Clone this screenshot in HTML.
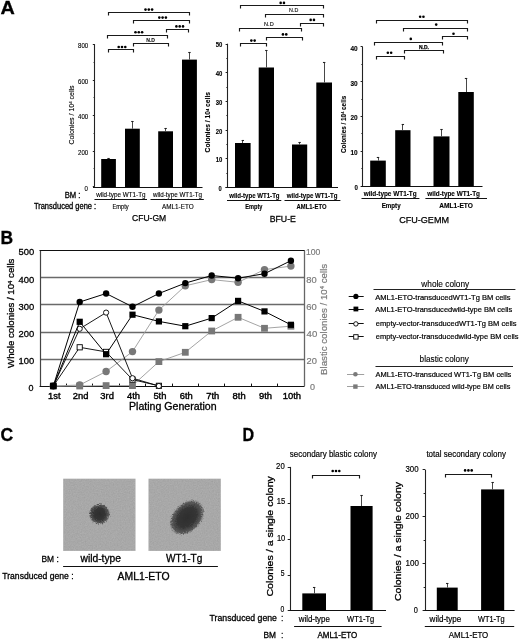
<!DOCTYPE html>
<html><head><meta charset="utf-8"><style>
html,body{margin:0;padding:0;background:#fff;width:520px;height:640px;overflow:hidden;}
svg{display:block;font-family:"Liberation Sans", sans-serif;}
</style></head><body>
<svg width="520" height="640" viewBox="0 0 520 640">
<text x="0.6" y="13.8" font-size="18" text-anchor="start" stroke="#000" stroke-width="0.3" font-weight="bold" textLength="14.3" lengthAdjust="spacingAndGlyphs" >A</text>
<line x1="94.5" y1="44.2" x2="94.5" y2="186.7" stroke="#222" stroke-width="1.1" />
<line x1="92.8" y1="44.5" x2="94.8" y2="44.5" stroke="#222" stroke-width="1" />
<line x1="92.8" y1="80.5" x2="94.8" y2="80.5" stroke="#222" stroke-width="1" />
<line x1="92.8" y1="115.5" x2="94.8" y2="115.5" stroke="#222" stroke-width="1" />
<line x1="92.8" y1="151.5" x2="94.8" y2="151.5" stroke="#222" stroke-width="1" />
<line x1="92.8" y1="186.5" x2="94.8" y2="186.5" stroke="#222" stroke-width="1" />
<line x1="93.6" y1="62.5" x2="94.8" y2="62.5" stroke="#222" stroke-width="1" />
<line x1="93.6" y1="97.5" x2="94.8" y2="97.5" stroke="#222" stroke-width="1" />
<line x1="93.6" y1="133.5" x2="94.8" y2="133.5" stroke="#222" stroke-width="1" />
<line x1="93.6" y1="168.5" x2="94.8" y2="168.5" stroke="#222" stroke-width="1" />
<line x1="93.0" y1="187.5" x2="202.5" y2="187.5" stroke="#111" stroke-width="1.2" />
<text x="78.1" y="48.1" font-size="7" text-anchor="start" stroke="#000" stroke-width="0.12" textLength="10.1" lengthAdjust="spacingAndGlyphs" >800</text>
<text x="78.1" y="83.6" font-size="7" text-anchor="start" stroke="#000" stroke-width="0.12" textLength="10.1" lengthAdjust="spacingAndGlyphs" >600</text>
<text x="78.1" y="119.0" font-size="7" text-anchor="start" stroke="#000" stroke-width="0.12" textLength="10.1" lengthAdjust="spacingAndGlyphs" >400</text>
<text x="78.1" y="154.6" font-size="7" text-anchor="start" stroke="#000" stroke-width="0.12" textLength="10.1" lengthAdjust="spacingAndGlyphs" >200</text>
<text x="84.6" y="190.8" font-size="7" text-anchor="start" stroke="#000" stroke-width="0.12" textLength="3.4" lengthAdjust="spacingAndGlyphs" >0</text>
<rect x="101.2" y="159.0" width="14.7" height="28.0" fill="#000" />
<line x1="108.5" y1="159.0" x2="108.5" y2="158.2" stroke="#333" stroke-width="0.9" />
<line x1="107.35000000000001" y1="158.5" x2="109.75000000000001" y2="158.5" stroke="#222" stroke-width="1.1" />
<rect x="125" y="128.7" width="14.8" height="58.3" fill="#000" />
<line x1="132.5" y1="128.7" x2="132.5" y2="121.3" stroke="#333" stroke-width="0.9" />
<line x1="131.20000000000002" y1="121.5" x2="133.6" y2="121.5" stroke="#222" stroke-width="1.1" />
<rect x="158.2" y="131.3" width="14.8" height="55.7" fill="#000" />
<line x1="165.5" y1="131.3" x2="165.5" y2="128.5" stroke="#333" stroke-width="0.9" />
<line x1="164.4" y1="128.5" x2="166.79999999999998" y2="128.5" stroke="#222" stroke-width="1.1" />
<rect x="182" y="59.6" width="14.9" height="127.4" fill="#000" />
<line x1="189.5" y1="59.6" x2="189.5" y2="52.3" stroke="#333" stroke-width="0.9" />
<line x1="188.25" y1="52.5" x2="190.64999999999998" y2="52.5" stroke="#222" stroke-width="1.1" />
<text transform="translate(73.9,115.0) rotate(-90)" x="0" y="0" font-size="6.6" text-anchor="middle" textLength="59.2" lengthAdjust="spacingAndGlyphs" stroke="#000" stroke-width="0.12">Colonies / 10<tspan font-size="0.62em" dy="-0.45em">4</tspan><tspan dy="0.28em"> </tspan>cells</text>
<path d="M108.5,15.5 V12.5 H189.5 V15.5" fill="none" stroke="#1a1a1a" stroke-width="1.15"/>
<circle cx="145.5" cy="9.6" r="1.3" fill="#000"/>
<circle cx="148.8" cy="9.6" r="1.3" fill="#000"/>
<circle cx="152.1" cy="9.6" r="1.3" fill="#000"/>
<path d="M133.5,23.5 V20.5 H189.5 V23.5" fill="none" stroke="#1a1a1a" stroke-width="1.15"/>
<circle cx="159.3" cy="17.6" r="1.3" fill="#000"/>
<circle cx="162.6" cy="17.6" r="1.3" fill="#000"/>
<circle cx="165.9" cy="17.6" r="1.3" fill="#000"/>
<path d="M166.5,32.5 V29.5 H188.5 V32.5" fill="none" stroke="#1a1a1a" stroke-width="1.15"/>
<circle cx="176.4" cy="26.4" r="1.3" fill="#000"/>
<circle cx="179.7" cy="26.4" r="1.3" fill="#000"/>
<circle cx="183.0" cy="26.4" r="1.3" fill="#000"/>
<path d="M107.5,38.5 V35.5 H167.5 V38.5" fill="none" stroke="#1a1a1a" stroke-width="1.15"/>
<circle cx="135.5" cy="32.3" r="1.3" fill="#000"/>
<circle cx="138.8" cy="32.3" r="1.3" fill="#000"/>
<circle cx="142.1" cy="32.3" r="1.3" fill="#000"/>
<path d="M133.5,46.5 V43.5 H168.5 V46.5" fill="none" stroke="#1a1a1a" stroke-width="1.15"/>
<text x="146.2" y="41.9" font-size="5.8" text-anchor="start" stroke="#111" stroke-width="0.1" font-weight="bold" fill="#111" textLength="8.8" lengthAdjust="spacingAndGlyphs" >N.D</text>
<path d="M108.5,52.5 V49.5 H133.5 V52.5" fill="none" stroke="#1a1a1a" stroke-width="1.15"/>
<circle cx="118.7" cy="47.0" r="1.3" fill="#000"/>
<circle cx="122.0" cy="47.0" r="1.3" fill="#000"/>
<circle cx="125.3" cy="47.0" r="1.3" fill="#000"/>
<text x="64.7" y="197.9" font-size="8.8" text-anchor="start" stroke="#000" stroke-width="0.3" textLength="15.8" lengthAdjust="spacingAndGlyphs" >BM :</text>
<text x="96.2" y="196.8" font-size="6.6" text-anchor="start" stroke="#000" stroke-width="0.12" textLength="49.3" lengthAdjust="spacingAndGlyphs" >wild-type WT1-Tg</text>
<line x1="94.5" y1="199.5" x2="147" y2="199.5" stroke="#111" stroke-width="1" />
<text x="153" y="196.8" font-size="6.6" text-anchor="start" stroke="#000" stroke-width="0.12" textLength="49.0" lengthAdjust="spacingAndGlyphs" >wild-type WT1-Tg</text>
<line x1="150.5" y1="199.5" x2="203.8" y2="199.5" stroke="#111" stroke-width="1" />
<text x="33.9" y="208.7" font-size="8.2" text-anchor="start" stroke="#000" stroke-width="0.3" textLength="62.3" lengthAdjust="spacingAndGlyphs" >Transduced gene :</text>
<text x="112.5" y="208.6" font-size="6.4" text-anchor="start" stroke="#000" stroke-width="0.12" textLength="16.2" lengthAdjust="spacingAndGlyphs" >Empty</text>
<text x="162" y="208.6" font-size="6.4" text-anchor="start" stroke="#000" stroke-width="0.12" textLength="31.7" lengthAdjust="spacingAndGlyphs" >AML1-ETO</text>
<text x="132.0" y="220.7" font-size="9.4" text-anchor="start" stroke="#000" stroke-width="0.25" textLength="34.2" lengthAdjust="spacingAndGlyphs" >CFU-GM</text>
<line x1="227.5" y1="43.7" x2="227.5" y2="187.5" stroke="#222" stroke-width="1.1" />
<line x1="225.6" y1="44.5" x2="227.6" y2="44.5" stroke="#222" stroke-width="1" />
<line x1="225.6" y1="72.5" x2="227.6" y2="72.5" stroke="#222" stroke-width="1" />
<line x1="225.6" y1="101.5" x2="227.6" y2="101.5" stroke="#222" stroke-width="1" />
<line x1="225.6" y1="130.5" x2="227.6" y2="130.5" stroke="#222" stroke-width="1" />
<line x1="225.6" y1="158.5" x2="227.6" y2="158.5" stroke="#222" stroke-width="1" />
<line x1="225.6" y1="187.5" x2="227.6" y2="187.5" stroke="#222" stroke-width="1" />
<line x1="226.4" y1="58.5" x2="227.6" y2="58.5" stroke="#222" stroke-width="1" />
<line x1="226.4" y1="87.5" x2="227.6" y2="87.5" stroke="#222" stroke-width="1" />
<line x1="226.4" y1="115.5" x2="227.6" y2="115.5" stroke="#222" stroke-width="1" />
<line x1="226.4" y1="144.5" x2="227.6" y2="144.5" stroke="#222" stroke-width="1" />
<line x1="226.4" y1="173.5" x2="227.6" y2="173.5" stroke="#222" stroke-width="1" />
<line x1="225.5" y1="187.5" x2="338" y2="187.5" stroke="#111" stroke-width="1.2" />
<text x="215.8" y="47.4" font-size="7.2" text-anchor="start" stroke="#000" stroke-width="0.12" font-weight="bold" textLength="6.6" lengthAdjust="spacingAndGlyphs" >50</text>
<text x="215.8" y="76.1" font-size="7.2" text-anchor="start" stroke="#000" stroke-width="0.12" font-weight="bold" textLength="6.6" lengthAdjust="spacingAndGlyphs" >40</text>
<text x="215.8" y="104.8" font-size="7.2" text-anchor="start" stroke="#000" stroke-width="0.12" font-weight="bold" textLength="6.6" lengthAdjust="spacingAndGlyphs" >30</text>
<text x="215.8" y="133.5" font-size="7.2" text-anchor="start" stroke="#000" stroke-width="0.12" font-weight="bold" textLength="6.6" lengthAdjust="spacingAndGlyphs" >20</text>
<text x="215.8" y="162.2" font-size="7.2" text-anchor="start" stroke="#000" stroke-width="0.12" font-weight="bold" textLength="6.6" lengthAdjust="spacingAndGlyphs" >10</text>
<text x="218.6" y="190.8" font-size="7.2" text-anchor="start" stroke="#000" stroke-width="0.12" font-weight="bold" textLength="3.2" lengthAdjust="spacingAndGlyphs" >0</text>
<rect x="235" y="143" width="15.6" height="44" fill="#000" />
<line x1="242.5" y1="143" x2="242.5" y2="140.4" stroke="#333" stroke-width="0.9" />
<line x1="241.60000000000002" y1="140.5" x2="244.0" y2="140.5" stroke="#222" stroke-width="1.1" />
<rect x="258.7" y="67.5" width="15.3" height="119.5" fill="#000" />
<line x1="266.5" y1="67.5" x2="266.5" y2="50.2" stroke="#333" stroke-width="0.9" />
<line x1="265.15000000000003" y1="50.5" x2="267.55" y2="50.5" stroke="#222" stroke-width="1.1" />
<rect x="292" y="144.5" width="15.2" height="42.5" fill="#000" />
<line x1="299.5" y1="144.5" x2="299.5" y2="142.3" stroke="#333" stroke-width="0.9" />
<line x1="298.40000000000003" y1="142.5" x2="300.8" y2="142.5" stroke="#222" stroke-width="1.1" />
<rect x="316.3" y="82.5" width="15.7" height="104.5" fill="#000" />
<line x1="324.5" y1="82.5" x2="324.5" y2="62" stroke="#333" stroke-width="0.9" />
<line x1="322.95" y1="62.5" x2="325.34999999999997" y2="62.5" stroke="#222" stroke-width="1.1" />
<text transform="translate(210.4,122.2) rotate(-90)" x="0" y="0" font-size="6.8" text-anchor="middle" font-weight="bold" textLength="60.4" lengthAdjust="spacingAndGlyphs" stroke="#000" stroke-width="0.12">Colonies / 10<tspan font-size="0.62em" dy="-0.45em">4</tspan><tspan dy="0.28em"> </tspan>cells</text>
<path d="M240.5,8.5 V5.5 H323.5 V8.5" fill="none" stroke="#1a1a1a" stroke-width="1.15"/>
<circle cx="280.65" cy="2.9" r="1.3" fill="#000"/>
<circle cx="283.95" cy="2.9" r="1.3" fill="#000"/>
<path d="M265.5,17.5 V14.5 H323.5 V17.5" fill="none" stroke="#1a1a1a" stroke-width="1.15"/>
<text x="289.1" y="12.4" font-size="6.0" text-anchor="start" stroke="#111" stroke-width="0.15" fill="#111" textLength="9.2" lengthAdjust="spacingAndGlyphs" >N.D</text>
<path d="M300.5,26.5 V23.5 H323.5 V26.5" fill="none" stroke="#1a1a1a" stroke-width="1.15"/>
<circle cx="310.65" cy="19.9" r="1.3" fill="#000"/>
<circle cx="313.95" cy="19.9" r="1.3" fill="#000"/>
<path d="M239.5,31.5 V28.5 H301.5 V31.5" fill="none" stroke="#1a1a1a" stroke-width="1.15"/>
<text x="264.1" y="26.3" font-size="6.0" text-anchor="start" stroke="#111" stroke-width="0.15" fill="#111" textLength="9.6" lengthAdjust="spacingAndGlyphs" >N.D</text>
<path d="M266.5,40.5 V37.5 H302.5 V40.5" fill="none" stroke="#1a1a1a" stroke-width="1.15"/>
<circle cx="282.95" cy="34.4" r="1.3" fill="#000"/>
<circle cx="286.25" cy="34.4" r="1.3" fill="#000"/>
<path d="M240.5,46.5 V43.5 H266.5 V46.5" fill="none" stroke="#1a1a1a" stroke-width="1.15"/>
<circle cx="251.35" cy="40.6" r="1.3" fill="#000"/>
<circle cx="254.65" cy="40.6" r="1.3" fill="#000"/>
<text x="229.2" y="197.7" font-size="6.8" text-anchor="start" stroke="#000" stroke-width="0.12" font-weight="bold" textLength="50.4" lengthAdjust="spacingAndGlyphs" >wild-type WT1-Tg</text>
<line x1="227" y1="200.5" x2="281.3" y2="200.5" stroke="#111" stroke-width="1" />
<text x="286.8" y="197.7" font-size="6.8" text-anchor="start" stroke="#000" stroke-width="0.12" font-weight="bold" textLength="50.6" lengthAdjust="spacingAndGlyphs" >wild-type WT1-Tg</text>
<line x1="284.5" y1="200.5" x2="340.4" y2="200.5" stroke="#111" stroke-width="1" />
<text x="245.2" y="209.1" font-size="6.6" text-anchor="start" stroke="#000" stroke-width="0.12" font-weight="bold" textLength="17.2" lengthAdjust="spacingAndGlyphs" >Empty</text>
<text x="296.6" y="209.1" font-size="6.6" text-anchor="start" stroke="#000" stroke-width="0.12" font-weight="bold" textLength="30.0" lengthAdjust="spacingAndGlyphs" >AML1-ETO</text>
<text x="269.7" y="222.0" font-size="9.3" text-anchor="start" stroke="#000" stroke-width="0.28" textLength="26.2" lengthAdjust="spacingAndGlyphs" >BFU-E</text>
<line x1="362.5" y1="46.6" x2="362.5" y2="186.2" stroke="#222" stroke-width="1.1" />
<line x1="360.6" y1="46.5" x2="362.6" y2="46.5" stroke="#222" stroke-width="1" />
<line x1="360.6" y1="81.5" x2="362.6" y2="81.5" stroke="#222" stroke-width="1" />
<line x1="360.6" y1="116.5" x2="362.6" y2="116.5" stroke="#222" stroke-width="1" />
<line x1="360.6" y1="151.5" x2="362.6" y2="151.5" stroke="#222" stroke-width="1" />
<line x1="360.6" y1="186.5" x2="362.6" y2="186.5" stroke="#222" stroke-width="1" />
<line x1="361.40000000000003" y1="64.5" x2="362.6" y2="64.5" stroke="#222" stroke-width="1" />
<line x1="361.40000000000003" y1="99.5" x2="362.6" y2="99.5" stroke="#222" stroke-width="1" />
<line x1="361.40000000000003" y1="133.5" x2="362.6" y2="133.5" stroke="#222" stroke-width="1" />
<line x1="361.40000000000003" y1="168.5" x2="362.6" y2="168.5" stroke="#222" stroke-width="1" />
<line x1="361.0" y1="186.5" x2="482.5" y2="186.5" stroke="#111" stroke-width="1.2" />
<text x="350.4" y="50.8" font-size="7.2" text-anchor="start" stroke="#000" stroke-width="0.12" font-weight="bold" textLength="7.2" lengthAdjust="spacingAndGlyphs" >40</text>
<text x="350.4" y="85.6" font-size="7.2" text-anchor="start" stroke="#000" stroke-width="0.12" font-weight="bold" textLength="7.2" lengthAdjust="spacingAndGlyphs" >30</text>
<text x="350.4" y="120.4" font-size="7.2" text-anchor="start" stroke="#000" stroke-width="0.12" font-weight="bold" textLength="7.2" lengthAdjust="spacingAndGlyphs" >20</text>
<text x="350.4" y="155.3" font-size="7.2" text-anchor="start" stroke="#000" stroke-width="0.12" font-weight="bold" textLength="7.2" lengthAdjust="spacingAndGlyphs" >10</text>
<text x="354.4" y="190.4" font-size="7.2" text-anchor="start" stroke="#000" stroke-width="0.12" font-weight="bold" textLength="3.4" lengthAdjust="spacingAndGlyphs" >0</text>
<rect x="370.2" y="160.6" width="15.6" height="25.8" fill="#000" />
<line x1="378.5" y1="160.6" x2="378.5" y2="157.7" stroke="#333" stroke-width="0.9" />
<line x1="376.8" y1="157.5" x2="379.2" y2="157.5" stroke="#222" stroke-width="1.1" />
<rect x="395.2" y="130.2" width="15.3" height="56.2" fill="#000" />
<line x1="402.5" y1="130.2" x2="402.5" y2="124.3" stroke="#333" stroke-width="0.9" />
<line x1="401.65000000000003" y1="124.5" x2="404.05" y2="124.5" stroke="#222" stroke-width="1.1" />
<rect x="433.5" y="136.4" width="16.0" height="50.0" fill="#000" />
<line x1="441.5" y1="136.4" x2="441.5" y2="129.7" stroke="#333" stroke-width="0.9" />
<line x1="440.3" y1="129.5" x2="442.7" y2="129.5" stroke="#222" stroke-width="1.1" />
<rect x="458.3" y="92" width="15.5" height="94.4" fill="#000" />
<line x1="466.5" y1="92" x2="466.5" y2="78.5" stroke="#333" stroke-width="0.9" />
<line x1="464.85" y1="78.5" x2="467.25" y2="78.5" stroke="#222" stroke-width="1.1" />
<text transform="translate(346.0,124.4) rotate(-90)" x="0" y="0" font-size="6.8" text-anchor="middle" font-weight="bold" textLength="57.2" lengthAdjust="spacingAndGlyphs" stroke="#000" stroke-width="0.12">Colonies / 10<tspan font-size="0.62em" dy="-0.45em">4</tspan><tspan dy="0.28em"> </tspan>cells</text>
<path d="M376.5,23.5 V20.5 H467.5 V23.5" fill="none" stroke="#1a1a1a" stroke-width="1.15"/>
<circle cx="420.15" cy="16.8" r="1.3" fill="#000"/>
<circle cx="423.45" cy="16.8" r="1.3" fill="#000"/>
<path d="M403.5,31.5 V28.5 H467.5 V31.5" fill="none" stroke="#1a1a1a" stroke-width="1.15"/>
<circle cx="436.2" cy="24.6" r="1.3" fill="#000"/>
<path d="M442.5,39.5 V36.5 H467.5 V39.5" fill="none" stroke="#1a1a1a" stroke-width="1.15"/>
<circle cx="453.5" cy="33.8" r="1.3" fill="#000"/>
<path d="M374.5,45.5 V42.5 H442.5 V45.5" fill="none" stroke="#1a1a1a" stroke-width="1.15"/>
<circle cx="410.8" cy="38.9" r="1.3" fill="#000"/>
<path d="M404.5,53.5 V50.5 H443.5 V53.5" fill="none" stroke="#1a1a1a" stroke-width="1.15"/>
<text x="424" y="48.8" font-size="5.6" text-anchor="middle" stroke="#000" stroke-width="0.25" font-weight="bold" textLength="10" lengthAdjust="spacingAndGlyphs" >N.D.</text>
<path d="M376.5,59.5 V56.5 H404.5 V59.5" fill="none" stroke="#1a1a1a" stroke-width="1.15"/>
<circle cx="387.85" cy="52.8" r="1.3" fill="#000"/>
<circle cx="391.15" cy="52.8" r="1.3" fill="#000"/>
<text x="363.7" y="196.4" font-size="6.8" text-anchor="start" stroke="#000" stroke-width="0.12" font-weight="bold" textLength="53.0" lengthAdjust="spacingAndGlyphs" >wild-type WT1-Tg</text>
<line x1="361.5" y1="198.5" x2="419.4" y2="198.5" stroke="#111" stroke-width="1" />
<text x="427.3" y="196.4" font-size="6.8" text-anchor="start" stroke="#000" stroke-width="0.12" font-weight="bold" textLength="52.7" lengthAdjust="spacingAndGlyphs" >wild-type WT1-Tg</text>
<line x1="425.4" y1="198.5" x2="487" y2="198.5" stroke="#111" stroke-width="1" />
<text x="381.7" y="208.0" font-size="6.6" text-anchor="start" stroke="#000" stroke-width="0.12" font-weight="bold" textLength="18.9" lengthAdjust="spacingAndGlyphs" >Empty</text>
<text x="439.2" y="208.0" font-size="6.6" text-anchor="start" stroke="#000" stroke-width="0.12" font-weight="bold" textLength="33.7" lengthAdjust="spacingAndGlyphs" >AML1-ETO</text>
<text x="399.2" y="222.7" font-size="9.3" text-anchor="start" stroke="#000" stroke-width="0.25" textLength="49.8" lengthAdjust="spacingAndGlyphs" >CFU-GEMM</text>
<text x="0.6" y="243.7" font-size="18" text-anchor="start" stroke="#000" stroke-width="0.3" font-weight="bold" textLength="12.6" lengthAdjust="spacingAndGlyphs" >B</text>
<line x1="40" y1="277.5" x2="304" y2="277.5" stroke="#6a6a6a" stroke-width="1.3" />
<line x1="40" y1="304.5" x2="304" y2="304.5" stroke="#6a6a6a" stroke-width="1.3" />
<line x1="40" y1="332.5" x2="304" y2="332.5" stroke="#6a6a6a" stroke-width="1.3" />
<line x1="40" y1="359.5" x2="304" y2="359.5" stroke="#6a6a6a" stroke-width="1.3" />
<line x1="40.5" y1="250.5" x2="40.5" y2="386" stroke="#444" stroke-width="1.2" />
<line x1="304.5" y1="250.5" x2="304.5" y2="386" stroke="#666" stroke-width="1.3" />
<line x1="39.5" y1="250.5" x2="304.6" y2="250.5" stroke="#111" stroke-width="1.1" />
<line x1="39.5" y1="386.5" x2="304.6" y2="386.5" stroke="#111" stroke-width="1.1" />
<line x1="66.5" y1="386" x2="66.5" y2="383.6" stroke="#111" stroke-width="1" />
<line x1="92.5" y1="386" x2="92.5" y2="383.6" stroke="#111" stroke-width="1" />
<line x1="119.5" y1="386" x2="119.5" y2="383.6" stroke="#111" stroke-width="1" />
<line x1="145.5" y1="386" x2="145.5" y2="383.6" stroke="#111" stroke-width="1" />
<line x1="172.5" y1="386" x2="172.5" y2="383.6" stroke="#111" stroke-width="1" />
<line x1="198.5" y1="386" x2="198.5" y2="383.6" stroke="#111" stroke-width="1" />
<line x1="224.5" y1="386" x2="224.5" y2="383.6" stroke="#111" stroke-width="1" />
<line x1="251.5" y1="386" x2="251.5" y2="383.6" stroke="#111" stroke-width="1" />
<line x1="277.5" y1="386" x2="277.5" y2="383.6" stroke="#111" stroke-width="1" />
<text x="18.5" y="255.3" font-size="9.6" text-anchor="start" stroke="#000" stroke-width="0.3" textLength="15.7" lengthAdjust="spacingAndGlyphs" >500</text>
<text x="18.5" y="283.4" font-size="9.6" text-anchor="start" stroke="#000" stroke-width="0.3" textLength="15.7" lengthAdjust="spacingAndGlyphs" >400</text>
<text x="18.5" y="309.9" font-size="9.6" text-anchor="start" stroke="#000" stroke-width="0.3" textLength="15.7" lengthAdjust="spacingAndGlyphs" >300</text>
<text x="18.5" y="336.5" font-size="9.6" text-anchor="start" stroke="#000" stroke-width="0.3" textLength="15.7" lengthAdjust="spacingAndGlyphs" >200</text>
<text x="18.5" y="363.5" font-size="9.6" text-anchor="start" stroke="#000" stroke-width="0.3" textLength="15.7" lengthAdjust="spacingAndGlyphs" >100</text>
<text x="28.4" y="391.0" font-size="9.6" text-anchor="start" stroke="#000" stroke-width="0.3" textLength="5.0" lengthAdjust="spacingAndGlyphs" >0</text>
<text x="306.0" y="255.3" font-size="9.8" text-anchor="start" stroke="#7a7a7a" stroke-width="0.2" fill="#7a7a7a" textLength="14.4" lengthAdjust="spacingAndGlyphs" >100</text>
<text x="306.2" y="282.8" font-size="9.8" text-anchor="start" stroke="#7a7a7a" stroke-width="0.2" fill="#7a7a7a" textLength="10.4" lengthAdjust="spacingAndGlyphs" >80</text>
<text x="306.3" y="309.8" font-size="9.8" text-anchor="start" stroke="#7a7a7a" stroke-width="0.2" fill="#7a7a7a" textLength="10.5" lengthAdjust="spacingAndGlyphs" >60</text>
<text x="306.6" y="336.6" font-size="9.8" text-anchor="start" stroke="#7a7a7a" stroke-width="0.2" fill="#7a7a7a" textLength="10.7" lengthAdjust="spacingAndGlyphs" >40</text>
<text x="306.6" y="364.4" font-size="9.8" text-anchor="start" stroke="#7a7a7a" stroke-width="0.2" fill="#7a7a7a" textLength="10.4" lengthAdjust="spacingAndGlyphs" >20</text>
<text x="310.0" y="390.3" font-size="9.8" text-anchor="start" stroke="#7a7a7a" stroke-width="0.2" fill="#7a7a7a" textLength="5.0" lengthAdjust="spacingAndGlyphs" >0</text>
<text transform="translate(14.3,313.3) rotate(-90)" x="0" y="0" font-size="9.6" text-anchor="middle" textLength="109.3" lengthAdjust="spacingAndGlyphs" stroke="#000" stroke-width="0.3">Whole colonies / 10<tspan font-size="0.62em" dy="-0.45em">4</tspan><tspan dy="0.28em"> </tspan>cells</text>
<text transform="translate(327.0,319.4) rotate(-90)" x="0" y="0" font-size="9.6" text-anchor="middle" fill="#7a7a7a" textLength="111.2" lengthAdjust="spacingAndGlyphs" stroke="#7a7a7a" stroke-width="0.2">Blastic colonies / 10<tspan font-size="0.62em" dy="-0.45em">4</tspan><tspan dy="0.28em"> </tspan>cells</text>
<text x="54.3" y="398.6" font-size="9.4" text-anchor="middle" stroke="#000" stroke-width="0.4" >1st</text>
<text x="80.7" y="398.6" font-size="9.4" text-anchor="middle" stroke="#000" stroke-width="0.4" >2nd</text>
<text x="107.1" y="398.6" font-size="9.4" text-anchor="middle" stroke="#000" stroke-width="0.4" >3rd</text>
<text x="133.5" y="398.6" font-size="9.4" text-anchor="middle" stroke="#000" stroke-width="0.4" >4th</text>
<text x="159.9" y="398.6" font-size="9.4" text-anchor="middle" stroke="#000" stroke-width="0.4" >5th</text>
<text x="186.3" y="398.6" font-size="9.4" text-anchor="middle" stroke="#000" stroke-width="0.4" >6th</text>
<text x="212.7" y="398.6" font-size="9.4" text-anchor="middle" stroke="#000" stroke-width="0.4" >7th</text>
<text x="239.1" y="398.6" font-size="9.4" text-anchor="middle" stroke="#000" stroke-width="0.4" >8th</text>
<text x="265.5" y="398.6" font-size="9.4" text-anchor="middle" stroke="#000" stroke-width="0.4" >9th</text>
<text x="291.9" y="398.6" font-size="9.4" text-anchor="middle" stroke="#000" stroke-width="0.4" >10th</text>
<text x="129.0" y="410.4" font-size="10.0" text-anchor="start" stroke="#000" stroke-width="0.3" textLength="87.6" lengthAdjust="spacingAndGlyphs" >Plating Generation</text>
<path d="M53.3,386 L79.7,386 L106.1,385.6 L132.5,385.6 L158.9,361.6 L185.3,352.3 L211.7,331 L238.1,317.3 L264.5,328.3 L290.9,326.2" fill="none" stroke="#9a9a9a" stroke-width="0.9"/>
<rect x="49.9" y="382.6" width="6.8" height="6.8" fill="#787878"/>
<rect x="76.3" y="382.6" width="6.8" height="6.8" fill="#787878"/>
<rect x="102.7" y="382.2" width="6.8" height="6.8" fill="#787878"/>
<rect x="129.1" y="382.2" width="6.8" height="6.8" fill="#787878"/>
<rect x="155.5" y="358.2" width="6.8" height="6.8" fill="#787878"/>
<rect x="181.9" y="348.9" width="6.8" height="6.8" fill="#787878"/>
<rect x="208.3" y="327.6" width="6.8" height="6.8" fill="#787878"/>
<rect x="234.7" y="313.9" width="6.8" height="6.8" fill="#787878"/>
<rect x="261.1" y="324.9" width="6.8" height="6.8" fill="#787878"/>
<rect x="287.5" y="322.8" width="6.8" height="6.8" fill="#787878"/>
<path d="M53.3,386 L79.7,385 L106.1,371.5 L132.5,351.6 L158.9,310.1 L185.3,285.8 L211.7,279.6 L238.1,282.3 L264.5,269.6 L290.9,266.1" fill="none" stroke="#9a9a9a" stroke-width="0.9"/>
<circle cx="53.3" cy="386" r="3.7" fill="#787878"/>
<circle cx="79.7" cy="385" r="3.7" fill="#787878"/>
<circle cx="106.1" cy="371.5" r="3.7" fill="#787878"/>
<circle cx="132.5" cy="351.6" r="3.7" fill="#787878"/>
<circle cx="158.9" cy="310.1" r="3.7" fill="#787878"/>
<circle cx="185.3" cy="285.8" r="3.7" fill="#787878"/>
<circle cx="211.7" cy="279.6" r="3.7" fill="#787878"/>
<circle cx="238.1" cy="282.3" r="3.7" fill="#787878"/>
<circle cx="264.5" cy="269.6" r="3.7" fill="#787878"/>
<circle cx="290.9" cy="266.1" r="3.7" fill="#787878"/>
<path d="M53.3,386 L79.7,347.3 L106.1,351.9 L132.5,379.6 L158.9,385.8" fill="none" stroke="#000" stroke-width="0.9"/>
<rect x="50.7" y="383.4" width="5.2" height="5.2" fill="#fff" stroke="#000" stroke-width="0.9"/>
<rect x="77.1" y="344.7" width="5.2" height="5.2" fill="#fff" stroke="#000" stroke-width="0.9"/>
<rect x="103.5" y="349.3" width="5.2" height="5.2" fill="#fff" stroke="#000" stroke-width="0.9"/>
<rect x="129.9" y="377.0" width="5.2" height="5.2" fill="#fff" stroke="#000" stroke-width="0.9"/>
<rect x="156.3" y="383.2" width="5.2" height="5.2" fill="#fff" stroke="#000" stroke-width="0.9"/>
<path d="M53.3,386 L79.7,328.8 L106.1,312.6 L132.5,378.2 L158.9,386" fill="none" stroke="#000" stroke-width="0.9"/>
<circle cx="53.3" cy="386" r="2.6" fill="#fff" stroke="#000" stroke-width="0.9"/>
<circle cx="79.7" cy="328.8" r="2.6" fill="#fff" stroke="#000" stroke-width="0.9"/>
<circle cx="106.1" cy="312.6" r="2.6" fill="#fff" stroke="#000" stroke-width="0.9"/>
<circle cx="132.5" cy="378.2" r="2.6" fill="#fff" stroke="#000" stroke-width="0.9"/>
<circle cx="158.9" cy="386" r="2.6" fill="#fff" stroke="#000" stroke-width="0.9"/>
<path d="M53.3,386 L79.7,321.8 L106.1,354.2 L132.5,314.7 L158.9,321.4 L185.3,326.2 L211.7,318.1 L238.1,300.9 L264.5,311.4 L290.9,324.8" fill="none" stroke="#000" stroke-width="1.0"/>
<rect x="50.2" y="382.9" width="6.2" height="6.2" fill="#000"/>
<rect x="76.6" y="318.7" width="6.2" height="6.2" fill="#000"/>
<rect x="103.0" y="351.1" width="6.2" height="6.2" fill="#000"/>
<rect x="129.4" y="311.6" width="6.2" height="6.2" fill="#000"/>
<rect x="155.8" y="318.3" width="6.2" height="6.2" fill="#000"/>
<rect x="182.2" y="323.1" width="6.2" height="6.2" fill="#000"/>
<rect x="208.6" y="315.0" width="6.2" height="6.2" fill="#000"/>
<rect x="235.0" y="297.8" width="6.2" height="6.2" fill="#000"/>
<rect x="261.4" y="308.3" width="6.2" height="6.2" fill="#000"/>
<rect x="287.8" y="321.7" width="6.2" height="6.2" fill="#000"/>
<path d="M53.3,386 L79.7,302 L106.1,293.5 L132.5,306.8 L158.9,293.5 L185.3,283.1 L211.7,275.5 L238.1,278.2 L264.5,273.7 L290.9,260.7" fill="none" stroke="#000" stroke-width="1.0"/>
<circle cx="53.3" cy="386" r="3.2" fill="#000"/>
<circle cx="79.7" cy="302" r="3.2" fill="#000"/>
<circle cx="106.1" cy="293.5" r="3.2" fill="#000"/>
<circle cx="132.5" cy="306.8" r="3.2" fill="#000"/>
<circle cx="158.9" cy="293.5" r="3.2" fill="#000"/>
<circle cx="185.3" cy="283.1" r="3.2" fill="#000"/>
<circle cx="211.7" cy="275.5" r="3.2" fill="#000"/>
<circle cx="238.1" cy="278.2" r="3.2" fill="#000"/>
<circle cx="264.5" cy="273.7" r="3.2" fill="#000"/>
<circle cx="290.9" cy="260.7" r="3.2" fill="#000"/>
<text x="421.3" y="286.5" font-size="8.4" text-anchor="start" stroke="#000" stroke-width="0.12" textLength="47.9" lengthAdjust="spacingAndGlyphs" >whole colony</text>
<line x1="373.5" y1="289.5" x2="515.4" y2="289.5" stroke="#222" stroke-width="1.1" />
<line x1="348.7" y1="296.5" x2="363.7" y2="296.5" stroke="#111" stroke-width="1" />
<circle cx="355.9" cy="296.4" r="2.6" fill="#000"/>
<text x="375.2" y="299.9" font-size="8.0" text-anchor="start" stroke="#000" stroke-width="0.2" textLength="135.3" lengthAdjust="spacingAndGlyphs" >AML1-ETO-transducedWT1-Tg BM cells</text>
<line x1="348.7" y1="309.5" x2="363.7" y2="309.5" stroke="#111" stroke-width="1" />
<rect x="353.5" y="306.6" width="4.8" height="4.8" fill="#000"/>
<text x="375.2" y="312.4" font-size="8.0" text-anchor="start" stroke="#000" stroke-width="0.2" textLength="137.1" lengthAdjust="spacingAndGlyphs" >AML1-ETO-transducedwild-type BM cells</text>
<line x1="348.7" y1="323.5" x2="363.7" y2="323.5" stroke="#111" stroke-width="1" />
<circle cx="355.9" cy="323.9" r="2.2" fill="#fff" stroke="#000" stroke-width="0.9"/>
<text x="375.8" y="325.8" font-size="8.0" text-anchor="start" stroke="#000" stroke-width="0.2" textLength="140.7" lengthAdjust="spacingAndGlyphs" >empty-vector-transducedWT1-Tg BM cells</text>
<line x1="348.7" y1="336.5" x2="363.7" y2="336.5" stroke="#111" stroke-width="1" />
<rect x="353.7" y="334.7" width="4.4" height="4.4" fill="#fff" stroke="#000" stroke-width="0.9"/>
<text x="375.8" y="338.8" font-size="8.0" text-anchor="start" stroke="#000" stroke-width="0.2" textLength="142.7" lengthAdjust="spacingAndGlyphs" >empty-vector-transducedwild-type BM cells</text>
<text x="419.6" y="362.2" font-size="8.4" text-anchor="start" stroke="#000" stroke-width="0.12" textLength="49.2" lengthAdjust="spacingAndGlyphs" >blastic colony</text>
<line x1="375.5" y1="366.5" x2="513" y2="366.5" stroke="#222" stroke-width="1.1" />
<line x1="347" y1="374.5" x2="364.2" y2="374.5" stroke="#a0a0a0" stroke-width="1" />
<circle cx="355.4" cy="374.2" r="2.3" fill="#7a7a7a"/>
<text x="375.5" y="377.1" font-size="8.0" text-anchor="start" stroke="#000" stroke-width="0.2" textLength="135.8" lengthAdjust="spacingAndGlyphs" >AML1-ETO-transduced WT1-Tg BM cells</text>
<line x1="347" y1="386.5" x2="364.2" y2="386.5" stroke="#a0a0a0" stroke-width="1" />
<rect x="353.2" y="384.40000000000003" width="4.4" height="4.4" fill="#7a7a7a"/>
<text x="375.5" y="388.9" font-size="8.0" text-anchor="start" stroke="#000" stroke-width="0.2" textLength="134.8" lengthAdjust="spacingAndGlyphs" >AML1-ETO-transduced wild-type BM cells</text>
<text x="0.6" y="441.0" font-size="18" text-anchor="start" stroke="#000" stroke-width="0.3" font-weight="bold" textLength="12.7" lengthAdjust="spacingAndGlyphs" >C</text>
<defs>
<filter id="grain" x="0" y="0" width="100%" height="100%" color-interpolation-filters="sRGB">
<feTurbulence type="fractalNoise" baseFrequency="0.75" numOctaves="2" seed="7" result="n"/>
<feColorMatrix in="n" type="matrix" values="0.33 0.33 0.33 0 0  0.33 0.33 0.33 0 0  0.33 0.33 0.33 0 0  0 0 0 0 1" result="g"/>
<feComponentTransfer in="g" result="c"><feFuncR type="linear" slope="0.9" intercept="0.18"/><feFuncG type="linear" slope="0.9" intercept="0.18"/><feFuncB type="linear" slope="0.9" intercept="0.18"/></feComponentTransfer>
<feComposite in="c" in2="SourceGraphic" operator="in"/>
</filter>
<filter id="bgrain" x="-20%" y="-20%" width="140%" height="140%" color-interpolation-filters="sRGB">
<feTurbulence type="fractalNoise" baseFrequency="0.9" numOctaves="2" seed="11" result="n"/>
<feDisplacementMap in="SourceGraphic" in2="n" scale="3.5" xChannelSelector="R" yChannelSelector="G"/>
</filter>
<radialGradient id="blob" cx="50%" cy="50%" r="50%">
<stop offset="0" stop-color="#2e2e2e"/><stop offset="0.55" stop-color="#353535"/><stop offset="0.85" stop-color="#4a4a4a" stop-opacity="0.85"/><stop offset="1" stop-color="#666" stop-opacity="0"/>
</radialGradient>
</defs>
<rect x="63.2" y="478.7" width="72.3" height="72.2" fill="#a3a3a3" />
<rect x="63.2" y="478.7" width="72.3" height="72.2" fill="#000" opacity="0.22" filter="url(#grain)" style="mix-blend-mode:overlay"/>
<rect x="148.5" y="478.7" width="72.3" height="72.2" fill="#a3a3a3" />
<rect x="148.5" y="478.7" width="72.3" height="72.2" fill="#000" opacity="0.22" filter="url(#grain)" style="mix-blend-mode:overlay"/>
<g filter="url(#bgrain)"><ellipse cx="99.4" cy="514" rx="10.8" ry="10.6" fill="url(#blob)"/></g>
<g filter="url(#bgrain)"><ellipse cx="187.0" cy="517.5" rx="20.5" ry="14.5" fill="url(#blob)" transform="rotate(-47 187.0 517.5)"/></g>
<text x="41.5" y="562.1" font-size="9.6" text-anchor="start" stroke="#000" stroke-width="0.3" textLength="17.3" lengthAdjust="spacingAndGlyphs" >BM :</text>
<text x="80.5" y="562.2" font-size="10.0" text-anchor="start" stroke="#000" stroke-width="0.3" textLength="40.5" lengthAdjust="spacingAndGlyphs" >wild-type</text>
<text x="166.0" y="562.2" font-size="10.0" text-anchor="start" stroke="#000" stroke-width="0.3" textLength="36.3" lengthAdjust="spacingAndGlyphs" >WT1-Tg</text>
<line x1="63.1" y1="566.5" x2="217.9" y2="566.5" stroke="#111" stroke-width="1.2" />
<text x="2.3" y="579.2" font-size="9.0" text-anchor="start" stroke="#000" stroke-width="0.3" textLength="71.3" lengthAdjust="spacingAndGlyphs" >Transduced gene :</text>
<text x="117.6" y="580.2" font-size="10.2" text-anchor="start" stroke="#000" stroke-width="0.3" textLength="51.9" lengthAdjust="spacingAndGlyphs" >AML1-ETO</text>
<text x="242.4" y="440.9" font-size="18" text-anchor="start" stroke="#000" stroke-width="0.3" font-weight="bold" textLength="11.6" lengthAdjust="spacingAndGlyphs" >D</text>
<line x1="290.5" y1="466.9" x2="290.5" y2="610.2" stroke="#222" stroke-width="1.1" />
<line x1="287.70000000000005" y1="467.5" x2="290.1" y2="467.5" stroke="#222" stroke-width="1" />
<line x1="287.70000000000005" y1="503.5" x2="290.1" y2="503.5" stroke="#222" stroke-width="1" />
<line x1="287.70000000000005" y1="539.5" x2="290.1" y2="539.5" stroke="#222" stroke-width="1" />
<line x1="287.70000000000005" y1="575.5" x2="290.1" y2="575.5" stroke="#222" stroke-width="1" />
<line x1="287.70000000000005" y1="610.5" x2="290.1" y2="610.5" stroke="#222" stroke-width="1" />
<line x1="290.1" y1="485.5" x2="290.1" y2="485.5" stroke="#222" stroke-width="1" />
<line x1="290.1" y1="521.5" x2="290.1" y2="521.5" stroke="#222" stroke-width="1" />
<line x1="290.1" y1="557.5" x2="290.1" y2="557.5" stroke="#222" stroke-width="1" />
<line x1="290.1" y1="592.5" x2="290.1" y2="592.5" stroke="#222" stroke-width="1" />
<line x1="289.6" y1="610.5" x2="386.0" y2="610.5" stroke="#111" stroke-width="1.1" />
<text x="276.1" y="468.8" font-size="9.2" text-anchor="start" stroke="#000" stroke-width="0.2" textLength="8.6" lengthAdjust="spacingAndGlyphs" >20</text>
<text x="276.7" y="504.1" font-size="9.2" text-anchor="start" stroke="#000" stroke-width="0.2" textLength="8.5" lengthAdjust="spacingAndGlyphs" >15</text>
<text x="276.9" y="540.6" font-size="9.2" text-anchor="start" stroke="#000" stroke-width="0.2" textLength="8.4" lengthAdjust="spacingAndGlyphs" >10</text>
<text x="280.8" y="576.4" font-size="9.2" text-anchor="start" stroke="#000" stroke-width="0.2" textLength="3.8" lengthAdjust="spacingAndGlyphs" >5</text>
<text x="280.4" y="611.7" font-size="9.2" text-anchor="start" stroke="#000" stroke-width="0.2" textLength="3.8" lengthAdjust="spacingAndGlyphs" >0</text>
<rect x="302.3" y="593.4" width="23.7" height="17.2" fill="#000" />
<line x1="314.5" y1="593.4" x2="314.5" y2="587.1" stroke="#333" stroke-width="0.9" />
<line x1="312.95" y1="587.5" x2="315.34999999999997" y2="587.5" stroke="#222" stroke-width="1.1" />
<rect x="350.5" y="506.0" width="22.1" height="104.6" fill="#000" />
<line x1="361.5" y1="506.0" x2="361.5" y2="495.1" stroke="#333" stroke-width="0.9" />
<line x1="360.35" y1="495.5" x2="362.75" y2="495.5" stroke="#222" stroke-width="1.1" />
<text transform="translate(272.6,536.3) rotate(-90)" x="0" y="0" font-size="9.8" text-anchor="middle" textLength="120.5" lengthAdjust="spacingAndGlyphs" stroke="#000" stroke-width="0.3">Colonies / a single colony</text>
<path d="M312.5,478.5 V475.5 H359.5 V478.5" fill="none" stroke="#1a1a1a" stroke-width="1.15"/>
<circle cx="332.7" cy="471.0" r="1.3" fill="#000"/>
<circle cx="336.0" cy="471.0" r="1.3" fill="#000"/>
<circle cx="339.3" cy="471.0" r="1.3" fill="#000"/>
<text x="289.8" y="456.9" font-size="8.8" text-anchor="start" stroke="#000" stroke-width="0.18" textLength="87.1" lengthAdjust="spacingAndGlyphs" >secondary blastic colony</text>
<text x="209.6" y="620.8" font-size="8.8" text-anchor="start" stroke="#000" stroke-width="0.3" textLength="67.3" lengthAdjust="spacingAndGlyphs" >Transduced gene</text>
<text x="281.3" y="620.6" font-size="8.8" text-anchor="start" stroke="#000" stroke-width="0.3" textLength="1.9" lengthAdjust="spacingAndGlyphs" >:</text>
<text x="298.7" y="621.6" font-size="8.6" text-anchor="start" stroke="#000" stroke-width="0.2" textLength="31.1" lengthAdjust="spacingAndGlyphs" >wild-type</text>
<text x="347.0" y="621.6" font-size="8.6" text-anchor="start" stroke="#000" stroke-width="0.2" textLength="27.3" lengthAdjust="spacingAndGlyphs" >WT1-Tg</text>
<line x1="294.1" y1="626.5" x2="381.6" y2="626.5" stroke="#111" stroke-width="1" />
<text x="263.5" y="637.8" font-size="8.8" text-anchor="start" stroke="#000" stroke-width="0.3" textLength="12.5" lengthAdjust="spacingAndGlyphs" >BM</text>
<text x="281.3" y="637.6" font-size="8.8" text-anchor="start" stroke="#000" stroke-width="0.3" textLength="1.9" lengthAdjust="spacingAndGlyphs" >:</text>
<text x="317.4" y="637.8" font-size="8.6" text-anchor="start" stroke="#000" stroke-width="0.3" textLength="39.9" lengthAdjust="spacingAndGlyphs" >AML1-ETO</text>
<line x1="425.5" y1="469.59999999999997" x2="425.5" y2="610.6" stroke="#222" stroke-width="1.1" />
<line x1="422.6" y1="469.5" x2="425.0" y2="469.5" stroke="#222" stroke-width="1" />
<line x1="422.6" y1="516.5" x2="425.0" y2="516.5" stroke="#222" stroke-width="1" />
<line x1="422.6" y1="563.5" x2="425.0" y2="563.5" stroke="#222" stroke-width="1" />
<line x1="422.6" y1="610.5" x2="425.0" y2="610.5" stroke="#222" stroke-width="1" />
<line x1="423.6" y1="493.5" x2="425.0" y2="493.5" stroke="#222" stroke-width="1" />
<line x1="423.6" y1="540.5" x2="425.0" y2="540.5" stroke="#222" stroke-width="1" />
<line x1="423.6" y1="587.5" x2="425.0" y2="587.5" stroke="#222" stroke-width="1" />
<line x1="424.5" y1="610.5" x2="514.6" y2="610.5" stroke="#111" stroke-width="1.1" />
<text x="405.5" y="472.0" font-size="9.2" text-anchor="start" stroke="#000" stroke-width="0.2" textLength="13.1" lengthAdjust="spacingAndGlyphs" >300</text>
<text x="405.6" y="518.8" font-size="9.2" text-anchor="start" stroke="#000" stroke-width="0.2" textLength="13.3" lengthAdjust="spacingAndGlyphs" >200</text>
<text x="405.6" y="565.9" font-size="9.2" text-anchor="start" stroke="#000" stroke-width="0.2" textLength="13.4" lengthAdjust="spacingAndGlyphs" >100</text>
<text x="413.7" y="612.9" font-size="9.2" text-anchor="start" stroke="#000" stroke-width="0.2" textLength="4.1" lengthAdjust="spacingAndGlyphs" >0</text>
<rect x="436.8" y="587.6" width="20.9" height="23.2" fill="#000" />
<line x1="447.5" y1="587.6" x2="447.5" y2="583.3" stroke="#333" stroke-width="0.9" />
<line x1="446.05" y1="583.5" x2="448.45" y2="583.5" stroke="#222" stroke-width="1.1" />
<rect x="481.1" y="489.4" width="23.1" height="121.4" fill="#000" />
<line x1="492.5" y1="489.4" x2="492.5" y2="482.5" stroke="#333" stroke-width="0.9" />
<line x1="491.45" y1="482.5" x2="493.84999999999997" y2="482.5" stroke="#222" stroke-width="1.1" />
<text transform="translate(401.2,541.5) rotate(-90)" x="0" y="0" font-size="9.8" text-anchor="middle" textLength="119" lengthAdjust="spacingAndGlyphs" stroke="#000" stroke-width="0.3">Colonies / a single colony</text>
<path d="M445.5,477.5 V474.5 H491.5 V477.5" fill="none" stroke="#1a1a1a" stroke-width="1.15"/>
<circle cx="465.1" cy="470.4" r="1.3" fill="#000"/>
<circle cx="468.4" cy="470.4" r="1.3" fill="#000"/>
<circle cx="471.7" cy="470.4" r="1.3" fill="#000"/>
<text x="426.4" y="456.8" font-size="8.8" text-anchor="start" stroke="#000" stroke-width="0.18" textLength="79.5" lengthAdjust="spacingAndGlyphs" >total secondary colony</text>
<text x="429.6" y="621.8" font-size="8.6" text-anchor="start" stroke="#000" stroke-width="0.2" textLength="31.7" lengthAdjust="spacingAndGlyphs" >wild-type</text>
<text x="478.0" y="621.8" font-size="8.6" text-anchor="start" stroke="#000" stroke-width="0.2" textLength="26.6" lengthAdjust="spacingAndGlyphs" >WT1-Tg</text>
<line x1="424.8" y1="626.5" x2="514.2" y2="626.5" stroke="#111" stroke-width="1" />
<text x="448.8" y="637.9" font-size="8.8" text-anchor="start" stroke="#000" stroke-width="0.2" textLength="39.5" lengthAdjust="spacingAndGlyphs" >AML1-ETO</text>
</svg>
</body></html>
